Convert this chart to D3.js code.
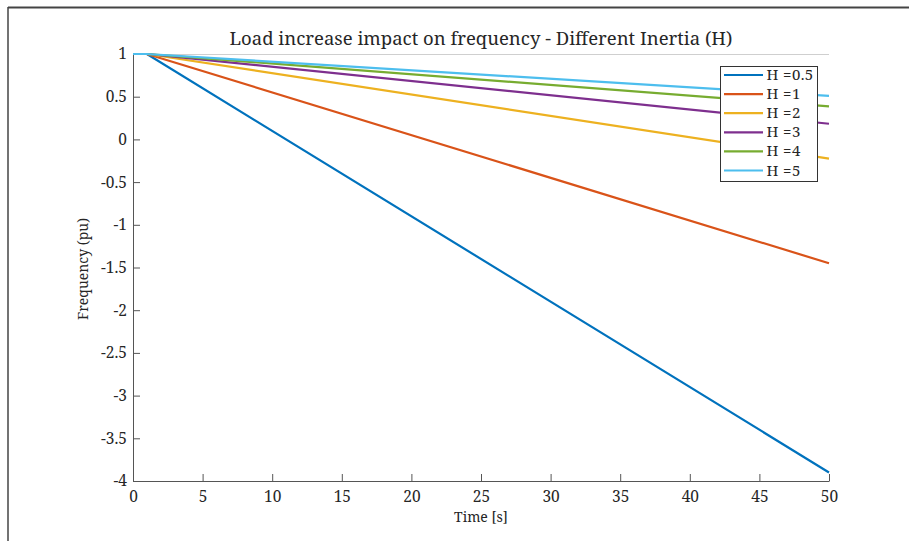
<!DOCTYPE html>
<html>
<head>
<meta charset="utf-8">
<script src="https://cdn.jsdelivr.net/npm/d3@7"></script>
<style>
  html, body { margin: 0; padding: 0; background: #fff; }
  svg { display: block; }
  text { font-family: "Noto Serif", "Liberation Serif", serif; fill: #262626; }
</style>
</head>
<body>
<svg id="chart" width="909" height="541"></svg>
<script>
// Time samples (s): steady until the load step at t = 1 s, then a linear decline
const time = [0, 1, 50];

// Frequency (pu) for each inertia constant
const seriesNames = ["H =0.5", "H =1", "H =2", "H =3", "H =4", "H =5"];
const freqH05 = [1, 1, -3.9];
const freqH1  = [1, 1, -1.45];
const freqH2  = [1, 1, -0.225];
const freqH3  = [1, 1, 0.183];
const freqH4  = [1, 1, 0.3875];
const freqH5  = [1, 1, 0.51];
const seriesValues = [freqH05, freqH1, freqH2, freqH3, freqH4, freqH5];
const seriesColors = ["#0072BD", "#D95319", "#EDB120", "#7E2F8E", "#77AC30", "#4DBEEE"];

// Axis ticks
const xTicks = [0, 5, 10, 15, 20, 25, 30, 35, 40, 45, 50];
const yTicks = [1, 0.5, 0, -0.5, -1, -1.5, -2, -2.5, -3, -3.5, -4];

const svg = d3.select("#chart");
const plot = { left: 133, right: 829, top: 54, bottom: 481 };

const x = d3.scaleLinear().domain([0, 50]).range([plot.left, plot.right]);
const y = d3.scaleLinear().domain([-4, 1]).range([plot.bottom, plot.top]);

// Figure frame edges
svg.append("line").attr("x1", 8).attr("x2", 909).attr("y1", 7.5).attr("y2", 7.5)
  .attr("stroke", "#444").attr("stroke-width", 2);
svg.append("line").attr("x1", 8).attr("x2", 8).attr("y1", 7).attr("y2", 541)
  .attr("stroke", "#444").attr("stroke-width", 1.5);

// Top edge of the axes box
svg.append("line").attr("x1", plot.left).attr("x2", plot.right)
  .attr("y1", plot.top + 0.5).attr("y2", plot.top + 0.5)
  .attr("stroke", "#cfcfcf").attr("stroke-width", 1);

const tickFont = 15.5;

// X axis (ticks point inward)
const xAxis = d3.axisBottom(x).tickValues(xTicks).tickSizeInner(-7).tickSizeOuter(0)
  .tickPadding(10).tickFormat(d3.format("d"));
const gx = svg.append("g").attr("transform", `translate(0,${plot.bottom})`).call(xAxis);
gx.select(".domain").attr("stroke", "#555");
gx.selectAll(".tick line").attr("stroke", "#555");
gx.selectAll(".tick text").style("font-size", tickFont + "px");

// Y axis (ticks point inward)
const yAxis = d3.axisLeft(y).tickValues(yTicks).tickSizeInner(-7).tickSizeOuter(0)
  .tickPadding(6).tickFormat(d => String(d));
const gy = svg.append("g").attr("transform", `translate(${plot.left},0)`).call(yAxis);
gy.select(".domain").attr("stroke", "#555");
gy.selectAll(".tick line").attr("stroke", "#555");
gy.selectAll(".tick text").style("font-size", tickFont + "px");

// Series lines
const line = d3.line().x((d, i) => x(time[i])).y(d => y(d));
const plotArea = svg.append("g");
seriesValues.forEach((vals, k) => {
  plotArea.append("path").datum(vals)
    .attr("d", line)
    .attr("fill", "none")
    .attr("stroke", seriesColors[k])
    .attr("stroke-width", 2.2)
    .attr("stroke-linejoin", "round");
});

// Title and axis labels
svg.append("text").attr("x", (plot.left + plot.right) / 2).attr("y", 45)
  .attr("text-anchor", "middle").style("font-size", "18.5px")
  .text("Load increase impact on frequency - Different Inertia (H)");
svg.append("text").attr("x", (plot.left + plot.right) / 2).attr("y", 522)
  .attr("text-anchor", "middle").style("font-size", "14px")
  .text("Time [s]");
svg.append("text").attr("transform", "translate(88,269) rotate(-90)")
  .attr("text-anchor", "middle").style("font-size", "14px")
  .text("Frequency (pu)");

// Legend
const legend = svg.append("g").attr("transform", "translate(720.5,66.5)");
legend.append("rect").attr("width", 97).attr("height", 115)
  .attr("fill", "#fff").attr("stroke", "#333").attr("stroke-width", 1);
seriesNames.forEach((name, k) => {
  const ry = 8.5 + k * 19.1;
  legend.append("line").attr("x1", 3.5).attr("x2", 42.5).attr("y1", ry).attr("y2", ry)
    .attr("stroke", seriesColors[k]).attr("stroke-width", 2.2);
  legend.append("text").attr("x", 46).attr("y", ry + 5).style("font-size", "15px")
    .style("letter-spacing", "0.4px")
    .text(name);
});
</script>
</body>
</html>
